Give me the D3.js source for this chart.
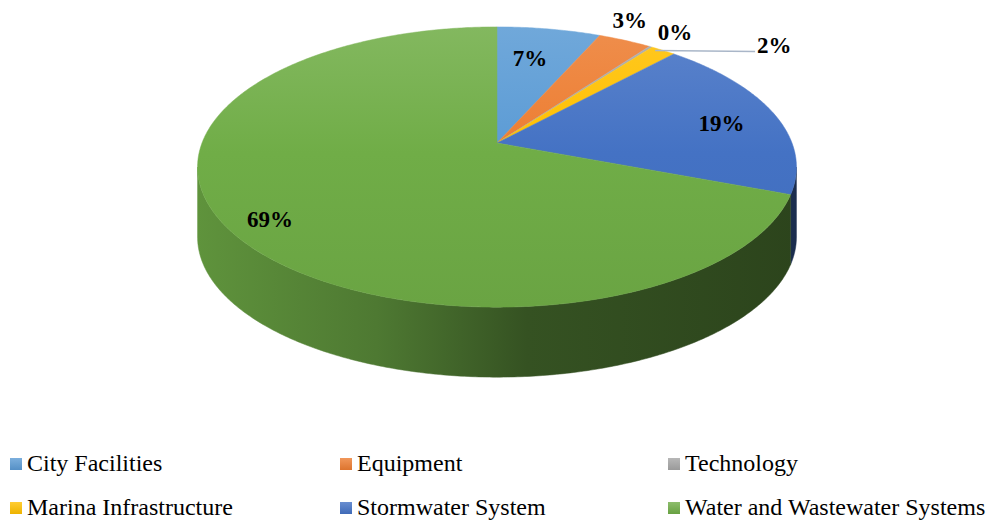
<!DOCTYPE html>
<html>

<head>
    <meta charset="UTF-8">
    <script src="https://cdnjs.cloudflare.com/ajax/libs/d3/7.9.0/d3.min.js"></script>
    <style>
        body {
            margin: 0;
            background-color: white;
        }
    </style>
</head>

<body>
    <div id="chart"></div>
    <script>
        const width = 995;
        const height = 521;
        const fontFamily = "Liberation Serif";

        // data
        const categories = [
            "City Facilities", "Equipment", "Technology",
            "Marina Infrastructure", "Stormwater System", "Water and Wastewater Systems"
        ];
        const shares = [6.6, 3.4, 0.2, 1.6, 19.0, 69.2];
        const pctLabels = ["7%", "3%", "0%", "2%", "19%", "69%"];
        const colors = ["#5b9bd5", "#ed7d31", "#a5a5a5", "#ffc000", "#4472c4", "#70ad47"];

        // pie geometry (perspective ellipse)
        const cx = 497, cy = 143;   // apex of the slices
        const A = 295, B = 136;     // horizontal / vertical radius factors
        const p = 0.1715;           // perspective strength
        const depth = 70;

        // label placement: radius factor + small nudges
        const labelLayout = [
            { r: 0.72, dx: -6, dy: 0 },
            { r: 1.2, dx: -17, dy: -3 },
            { r: 1.2, dx: -2, dy: 2 },
            { leader: true },
            { r: 0.8, dx: 2, dy: 4 },
            { r: 0.85, dx: -2, dy: 5 }
        ];

        function proj(theta, r = 1, dz = 0) {
            const w = 1 + p * r * Math.cos(theta);
            return [
                cx + A * r * Math.sin(theta) / w,
                cy - B * r * Math.cos(theta) / w + dz
            ];
        }

        function arcPoints(a0, a1, dz = 0) {
            const n = Math.max(2, Math.ceil((a1 - a0) / 0.01));
            return d3.range(n + 1).map(i => proj(a0 + (a1 - a0) * i / n, 1, dz));
        }

        const line = d3.line();

        const svg = d3.select("#chart")
            .append("svg")
            .attr("width", width)
            .attr("height", height);

        const defs = svg.append("defs");

        const pie = d3.pie().sort(null).value(d => d);
        const arcs = pie(shares);

        // gradients for tops and sides
        colors.forEach((c, i) => {
            const top = defs.append("linearGradient")
                .attr("id", "top" + i)
                .attr("gradientUnits", "userSpaceOnUse")
                .attr("x1", 0).attr("y1", 27).attr("x2", 0).attr("y2", 307);
            top.append("stop").attr("offset", 0).attr("stop-color", d3.interpolateRgb(c, "#fff")(0.13));
            top.append("stop").attr("offset", 0.45).attr("stop-color", c);
            top.append("stop").attr("offset", 1).attr("stop-color", d3.color(c).darker(0.15));

            const side = defs.append("linearGradient")
                .attr("id", "side" + i)
                .attr("gradientUnits", "userSpaceOnUse")
                .attr("x1", 197).attr("y1", 0).attr("x2", 797).attr("y2", 0);
            [[0, 0.45], [0.3, 1.0], [0.55, 2.1], [1, 2.6]].forEach(([o, k]) => {
                side.append("stop").attr("offset", o).attr("stop-color", d3.color(c).darker(k));
            });

            const leg = defs.append("linearGradient")
                .attr("id", "leg" + i)
                .attr("x1", 0).attr("y1", 0).attr("x2", 0).attr("y2", 1);
            leg.append("stop").attr("offset", 0).attr("stop-color", d3.interpolateRgb(c, "#fff")(0.2));
            leg.append("stop").attr("offset", 1).attr("stop-color", d3.color(c).darker(0.2));
        });

        // visible front wall lies between the two horizontal extremes
        const frontStart = Math.acos(-p);
        const frontEnd = 2 * Math.PI - frontStart;

        arcs.forEach((a, i) => {
            const a0 = Math.max(a.startAngle, frontStart);
            const a1 = Math.min(a.endAngle, frontEnd);
            if (a1 <= a0) return;
            const topPts = arcPoints(a0, a1);
            const botPts = arcPoints(a0, a1, depth).reverse();
            svg.append("path")
                .attr("d", line(topPts.concat(botPts)) + "Z")
                .attr("fill", `url(#side${i})`)
                .attr("stroke", `url(#side${i})`)
                .attr("stroke-width", 0.5);
        });

        arcs.forEach((a, i) => {
            const pts = [[cx, cy]].concat(arcPoints(a.startAngle, a.endAngle));
            svg.append("path")
                .attr("d", line(pts) + "Z")
                .attr("fill", `url(#top${i})`)
                .attr("stroke", `url(#top${i})`)
                .attr("stroke-width", 0.5);
        });

        // data labels
        arcs.forEach((a, i) => {
            const mid = (a.startAngle + a.endAngle) / 2;
            const L = labelLayout[i];
            let x, y, anchor = "middle";
            if (L.leader) {
                const [x0, y0] = proj(mid, 1);
                x = x0 + 94;
                y = y0 + 3;
                anchor = "start";
                svg.append("path")
                    .attr("d", line([[x0 - 8, y0], [x - 2, y0 + 1]]))
                    .attr("stroke", "#a9b6c8")
                    .attr("stroke-width", 1.5)
                    .attr("fill", "none");
            } else {
                const q = proj(mid, L.r);
                x = q[0] + L.dx;
                y = q[1] + L.dy + 8;
            }
            svg.append("text")
                .attr("x", x)
                .attr("y", y)
                .attr("font-family", fontFamily)
                .attr("font-size", 23)
                .attr("font-weight", "bold")
                .attr("text-anchor", anchor)
                .text(pctLabels[i]);
        });

        // legend
        const colX = [10, 340, 668];
        const rowY = [458, 502];
        categories.forEach((name, i) => {
            const gx = colX[i % 3];
            const gy = rowY[Math.floor(i / 3)];
            svg.append("rect")
                .attr("x", gx)
                .attr("y", gy)
                .attr("width", 12)
                .attr("height", 12)
                .attr("fill", `url(#leg${i})`);
            svg.append("text")
                .attr("x", gx + 17)
                .attr("y", gy + 13)
                .attr("font-family", fontFamily)
                .attr("font-size", 24)
                .text(name);
        });
    </script>
</body>

</html>
